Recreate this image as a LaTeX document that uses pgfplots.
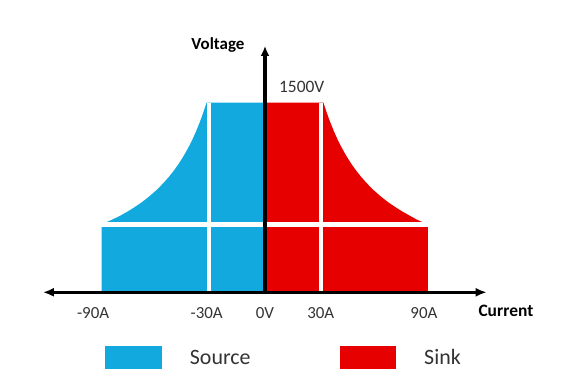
\documentclass[border=0pt]{standalone}
\usepackage{fontspec}
\setmainfont{Carlito}
\usepackage{pgfplots}
\pgfplotsset{compat=1.18}
\usetikzlibrary{arrows.meta}
\definecolor{srcblue}{RGB}{18,170,222}
\definecolor{sinkred}{RGB}{230,0,0}
\definecolor{txtgray}{RGB}{51,51,51}
\begin{document}
\begin{tikzpicture}
\path[use as bounding box] (-265bp,-94.7bp) rectangle (298bp,292.3bp);
\begin{axis}[
  anchor=origin, at={(0,0)},
  scale only axis, width=452.5bp, height=252.8bp,
  xmin=-125, xmax=125, ymin=0, ymax=2000,
  clip=false,
  axis line style={draw=none},
  tick style={draw=none},
  ytick=\empty,
  xtick={-90,-30,0,30,90},
  xticklabels={{\kern-18bp -90A},{\kern-8bp -30A},0V,{\kern3bp 30A},{\kern-8bp 90A}},
  xticklabel style={anchor=base, inner sep=0pt, yshift=-26bp, font=\fontsize{17}{20}\selectfont, text=txtgray},
  legend image code/.code={\fill[#1] (0bp,-11.7bp) rectangle (56.7bp,11.7bp);},
  legend cell align=left,
  legend style={at={(axis cs:-88.4,-517)}, anchor=west, draw=none, fill=none,
    inner sep=0pt, legend columns=2,
    nodes={inner sep=0pt, text=txtgray, font=\fontsize{22}{24}\selectfont},
    /tikz/every odd column/.append style={column sep=28bp},
    /tikz/every even column/.append style={column sep=89bp}},
]
\addplot[fill=srcblue, draw=none] coordinates {(0,0) (0,1500) (-32.3,1500) (-33,1470) (-34,1426) (-35,1386) (-36,1347) (-38,1276) (-40,1212) (-42,1155) (-44,1102) (-46,1054) (-48,1010) (-50,970) (-53,915) (-56,866) (-60,808) (-64,758) (-68,713) (-72,674) (-76,638) (-80,606) (-85,571) (-90.2,538) (-90.2,0)} -- cycle;
\addlegendentry{Source}
\addplot[fill=sinkred, draw=none] coordinates {(0,0) (0,1500) (32.3,1500) (33,1470) (34,1426) (35,1386) (36,1347) (38,1276) (40,1212) (42,1155) (44,1102) (46,1054) (48,1010) (50,970) (53,915) (56,866) (60,808) (64,758) (68,713) (72,674) (76,638) (80,606) (84,574) (87.5,552) (87.5,534) (90,534) (90,0)} -- cycle;
\addlegendentry{Sink}
% white dividers
\addplot[white, line width=5bp, forget plot] coordinates {(-92,534) (92,534)};
\addplot[white, line width=3.6bp, forget plot] coordinates {(-31,0) (-31,1500)};
\addplot[white, line width=3.6bp, forget plot] coordinates {(31,0) (31,1500)};
% axes
\addplot[black, line width=3.2bp, {Latex[length=11bp,width=9bp]}-{Latex[length=11bp,width=9bp]}, forget plot] coordinates {(-122.7,0) (122.5,0)};
\addplot[black, line width=3.2bp, -{Latex[length=10bp,width=9bp]}, forget plot] coordinates {(0,0) (0,1949)};
\node[anchor=base, font=\bfseries\fontsize{17}{20}\selectfont] at (axis cs:-26,1921) {Voltage};
\node[anchor=base, font=\fontsize{17.5}{20}\selectfont, text=txtgray] at (axis cs:20.3,1582) {1500V};
\node[anchor=base, font=\bfseries\fontsize{17.5}{20}\selectfont] at (axis cs:133.1,-187.5) {Current};
\end{axis}
\end{tikzpicture}
\end{document}
